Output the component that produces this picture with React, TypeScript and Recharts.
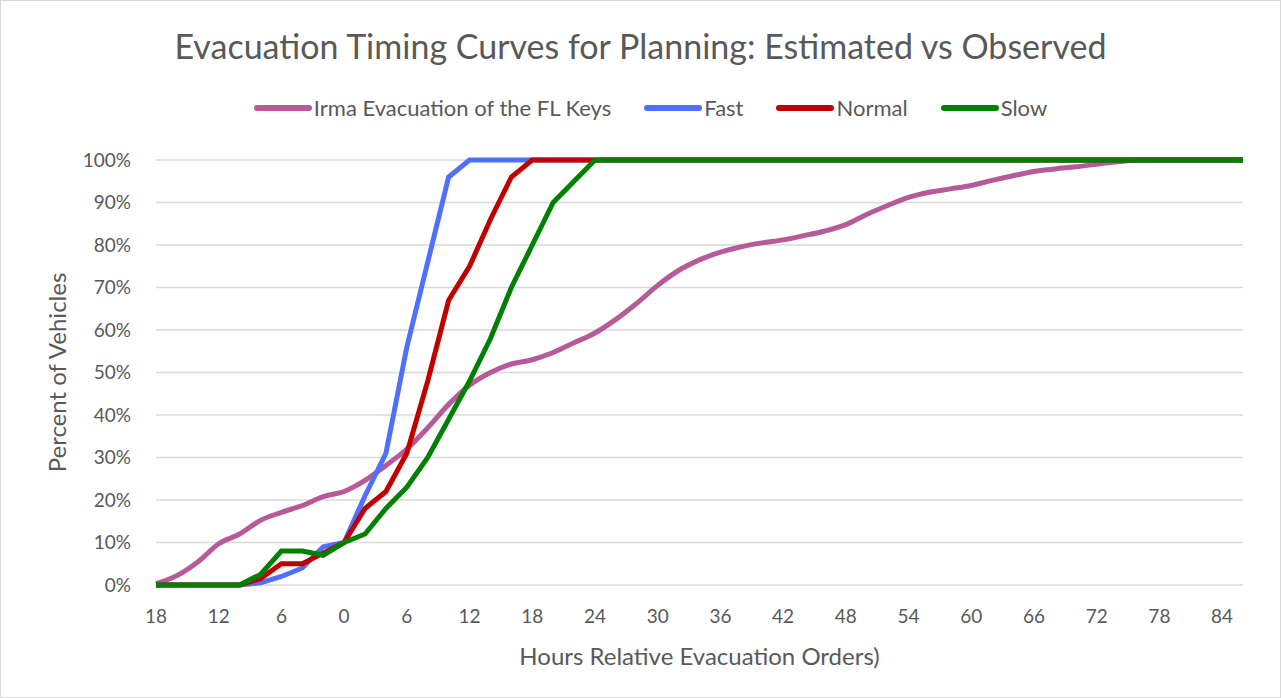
import { LineChart, Line, XAxis, YAxis, CartesianGrid } from "recharts"

// hours relative to evacuation order, every 2 h
const hours = [
  -18, -16, -14, -12, -10, -8, -6, -4, -2, 0, 2, 4, 6, 8, 10, 12, 14, 16, 18, 20, 22, 24, 26, 28, 30, 32, 34,
  36, 38, 40, 42, 44, 46, 48, 50, 52, 54, 56, 58, 60, 62, 64, 66, 68, 70, 72, 74, 76, 78, 80, 82, 84, 86,
]

const irma = [
  0.3, 2.2, 5.4, 9.7, 12, 15.2, 17.1, 18.7, 20.8, 22, 24.6, 28.1, 32, 37, 42.5, 47, 50, 52, 53, 54.7, 57, 59.3,
  62.5, 66.3, 70.5, 74, 76.5, 78.3, 79.6, 80.5, 81.2, 82.2, 83.3, 84.8, 87.2, 89.3, 91.2, 92.4, 93.2, 94, 95.2,
  96.3, 97.3, 97.9, 98.4, 99, 99.6, 100, 100, 100, 100, 100, 100,
]

const fast = [
  0, 0, 0, 0, 0, 0.5, 2, 4, 9, 10, 21, 31, 56, 76, 96, 100, 100, 100, 100, 100, 100, 100, 100, 100, 100, 100,
  100, 100, 100, 100, 100, 100, 100, 100, 100, 100, 100, 100, 100, 100, 100, 100, 100, 100, 100, 100, 100, 100,
  100, 100, 100, 100, 100,
]

const normal = [
  0, 0, 0, 0, 0, 1.5, 5, 5, 7.5, 10, 18, 22, 31, 48, 67, 75, 86, 96, 100, 100, 100, 100, 100, 100, 100, 100,
  100, 100, 100, 100, 100, 100, 100, 100, 100, 100, 100, 100, 100, 100, 100, 100, 100, 100, 100, 100, 100, 100,
  100, 100, 100, 100, 100,
]

const slow = [
  0, 0, 0, 0, 0, 2.5, 8, 8, 7, 10, 12, 18, 23, 30, 39, 48, 58, 70, 80, 90, 95, 100, 100, 100, 100, 100, 100,
  100, 100, 100, 100, 100, 100, 100, 100, 100, 100, 100, 100, 100, 100, 100, 100, 100, 100, 100, 100, 100, 100,
  100, 100, 100, 100,
]

const xTicks = [-18, -12, -6, 0, 6, 12, 18, 24, 30, 36, 42, 48, 54, 60, 66, 72, 78, 84]
const yTicks = [0, 10, 20, 30, 40, 50, 60, 70, 80, 90, 100]

const seriesList = [
  { key: "irma", name: "Irma Evacuation of the FL Keys", color: "#b65a98", smooth: true },
  { key: "fast", name: "Fast", color: "#4f6fff", smooth: false },
  { key: "normal", name: "Normal", color: "#c00000", smooth: false },
  { key: "slow", name: "Slow", color: "#008000", smooth: false },
]

const data = hours.map((h, i) => ({ h, irma: irma[i], fast: fast[i], normal: normal[i], slow: slow[i] }))

const FONT = "Lato, 'Open Sans', sans-serif"
const TEXT = "#595959"

export default function App() {
  return (
    <div
      style={{
        position: "absolute",
        left: 0,
        top: 0,
        width: 1281,
        height: 698,
        background: "#fff",
        boxSizing: "border-box",
        border: "1px solid #d9d9d9",
      }}
    >
      <div
        style={{
          position: "absolute",
          top: 25,
          left: 0,
          width: 1279,
          textAlign: "center",
          fontFamily: FONT,
          fontSize: 34,
          lineHeight: "40px",
          color: TEXT,
        }}
      >
        Evacuation Timing Curves for Planning: Estimated vs Observed
      </div>
      <div
        style={{
          position: "absolute",
          top: 93,
          left: 10,
          width: 1279,
          display: "flex",
          justifyContent: "center",
          gap: 33,
          fontFamily: FONT,
          fontSize: 22,
          lineHeight: "28px",
          color: TEXT,
        }}
      >
        {seriesList.map((s) => (
          <div key={s.key} style={{ display: "flex", alignItems: "center" }}>
            <span
              style={{ display: "inline-block", width: 58, height: 6, borderRadius: 3, background: s.color, marginRight: 2 }}
            />
            {s.name}
          </div>
        ))}
      </div>
      <LineChart width={1279} height={696} data={data} margin={{ top: 159, right: 37, bottom: 82, left: 0 }}>
        <CartesianGrid vertical={false} stroke="#d9d9d9" strokeWidth={1.5} />
        <XAxis
          type="number"
          dataKey="h"
          domain={[-18, 86]}
          ticks={xTicks}
          tickFormatter={(v: number) => String(Math.abs(v))}
          axisLine={false}
          tickLine={false}
          tickSize={0}
          tickMargin={25}
          tick={{ fill: TEXT, fontSize: 19, fontFamily: FONT }}
          label={{
            value: "Hours Relative Evacuation Orders)",
            position: "bottom",
            offset: 33,
            fill: TEXT,
            fontSize: 24,
            fontFamily: FONT,
          }}
        />
        <YAxis
          domain={[0, 100]}
          ticks={yTicks}
          width={155}
          tickFormatter={(v: number) => v + "%"}
          axisLine={false}
          tickLine={false}
          tickSize={0}
          tickMargin={25}
          tick={{ fill: TEXT, fontSize: 19, fontFamily: FONT }}
          label={{
            value: "Percent of Vehicles",
            angle: -90,
            position: "insideLeft",
            offset: 56,
            style: { textAnchor: "middle" },
            fill: TEXT,
            fontSize: 24,
            fontFamily: FONT,
          }}
        />
        {seriesList.map((s) => (
          <Line
            key={s.key}
            type={s.smooth ? "monotone" : "linear"}
            dataKey={s.key}
            name={s.name}
            stroke={s.color}
            strokeWidth={5}
            dot={false}
            isAnimationActive={false}
          />
        ))}
      </LineChart>
    </div>
  )
}
